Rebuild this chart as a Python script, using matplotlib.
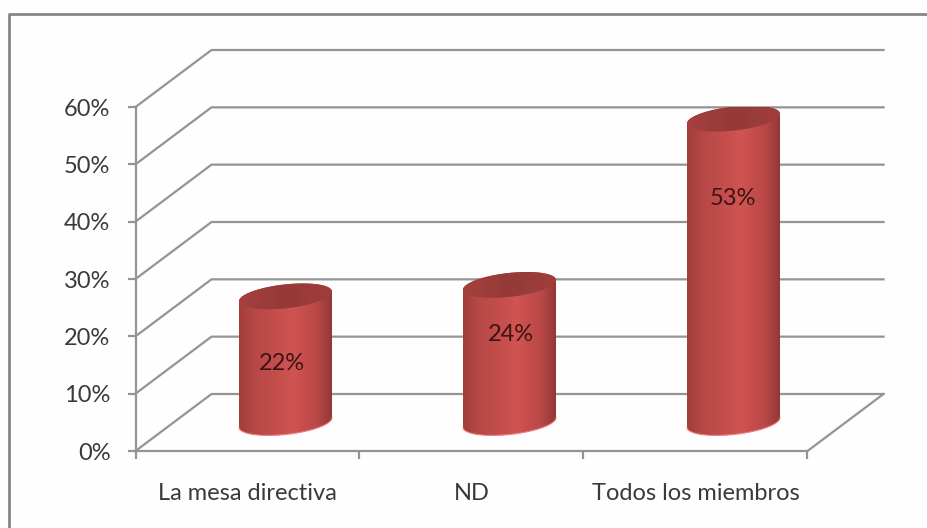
import numpy as np
import matplotlib
matplotlib.use("Agg")
import matplotlib.pyplot as plt
from matplotlib.colors import LinearSegmentedColormap
from matplotlib.patches import Polygon
from matplotlib.lines import Line2D

categories = ["La mesa directiva", "ND", "Todos los miembros"]
values = [22, 24, 53]
value_labels = ["22%", "24%", "53%"]
y_ticks = [0, 10, 20, 30, 40, 50, 60]
y_tick_labels = ["0%", "10%", "20%", "30%", "40%", "50%", "60%"]
label_heights = [15.2, 20.3, 44.0]   # where each label sits, in % on the bar

W, H = 928, 528
FS = 17.0
plt.rcParams["font.family"] = ["Lato", "DejaVu Sans"]
fig = plt.figure(figsize=(W / 100, H / 100), dpi=100, facecolor="#fefefe")

# outer frame of the screenshot
fig.add_artist(Line2D([9.5 / W, 9.5 / W, 1], [0, 1 - 13.5 / H, 1 - 13.5 / H],
                      color="#868686", lw=2.0, transform=fig.transFigure))

L, R, B, T = 135.5, 807.5, 451, 107
ax = fig.add_axes([L / W, 1 - B / H, (R - L) / W, (B - T) / H])
ax.set_xlim(0, 3)
ax.set_ylim(0, 60)
ax.patch.set_alpha(0)
for s in ("top", "right"):
    ax.spines[s].set_visible(False)
GC = "#949494"
LW = 1.6
for s in ("left", "bottom"):
    ax.spines[s].set_color(GC)
    ax.spines[s].set_linewidth(LW)

ax.set_yticks(y_ticks)
ax.set_yticklabels(y_tick_labels, fontsize=FS, color="#3a3a3a")
ax.tick_params(axis="y", length=6, width=LW, color=GC, pad=12)
ax.set_xticks([0, 1, 2, 3])
ax.set_xticklabels([])
ax.tick_params(axis="x", which="major", length=6, width=LW, color=GC)
ax.set_xticks([0.5, 1.5, 2.5], minor=True)
ax.set_xticklabels(categories, minor=True, fontsize=FS, color="#3a3a3a")
ax.tick_params(axis="x", which="minor", length=0, pad=23)

px = 3 / (R - L)          # data units per pixel, x
py = 60 / (B - T)         # data units per pixel, y
DX, DY = 76 * px, 57 * py  # depth of the 3-D box

# walls: gridlines on back and side, floor edge
for t in y_ticks:
    ax.plot([0, DX, 3 + DX], [t, t + DY, t + DY], color=GC, lw=LW,
            clip_on=False, zorder=1, solid_joinstyle="miter")
ax.plot([3, 3 + DX], [0, DY], color=GC, lw=LW, clip_on=False, zorder=1)

# cylinders
body = LinearSegmentedColormap.from_list(
    "body", [(0, "#a23e3c"), (0.15, "#b54745"), (0.58, "#d05452"),
             (0.85, "#b84846"), (1, "#913836")])
lid = LinearSegmentedColormap.from_list(
    "lid", [(0, "#a5403e"), (0.5, "#943a38"), (1, "#a03e3c")])
half_w = 46.5 * px
semi_b = 12 * py
tilt = 4.8 * py
t = np.linspace(0, 2 * np.pi, 121)


def rim(cx, cy, tt):
    return (cx + half_w * np.cos(tt),
            cy + tilt * np.cos(tt) + semi_b * np.sin(tt))


base_y = DY / 2
label_shift = [-4, 1, -1]
for i, v in enumerate(values):
    cx = i + 0.5 + DX / 2
    top_y = base_y + v
    # body outline: bottom half of base + upper lid edge
    bx, by = rim(cx, base_y, np.linspace(np.pi, 2 * np.pi, 60))
    tx, ty = rim(cx, top_y, np.linspace(0, np.pi, 60))
    verts = np.column_stack([np.r_[bx, tx], np.r_[by, ty]])
    poly = Polygon(verts, closed=True, transform=ax.transData,
                   fc="none", ec="none")
    ax.add_patch(poly)
    im = ax.imshow(np.linspace(0, 1, 256)[None, :], cmap=body, aspect="auto",
                   extent=[cx - half_w, cx + half_w, base_y - 20, top_y + 20],
                   zorder=3)
    im.set_clip_path(poly)
    # thin pale edge along the floor
    ax.plot(bx, by, color="#e58583", lw=0.8, zorder=4, clip_on=False)
    # lid
    lx, ly = rim(cx, top_y, t)
    lid_poly = Polygon(np.column_stack([lx, ly]), closed=True,
                       transform=ax.transData, fc="none", ec="none")
    ax.add_patch(lid_poly)
    im2 = ax.imshow(np.linspace(0, 1, 256)[None, :], cmap=lid, aspect="auto",
                    extent=[cx - half_w, cx + half_w, top_y - 15, top_y + 15],
                    zorder=5)
    im2.set_clip_path(lid_poly)
    ax.text(cx + label_shift[i] * px, label_heights[i], value_labels[i],
            ha="center", va="center", fontsize=FS, color="#3c1414",
            zorder=6, clip_on=False)

ax.set_xlim(0, 3)
ax.set_ylim(0, 60)
fig.savefig("out.png", dpi=100, facecolor=fig.get_facecolor())
